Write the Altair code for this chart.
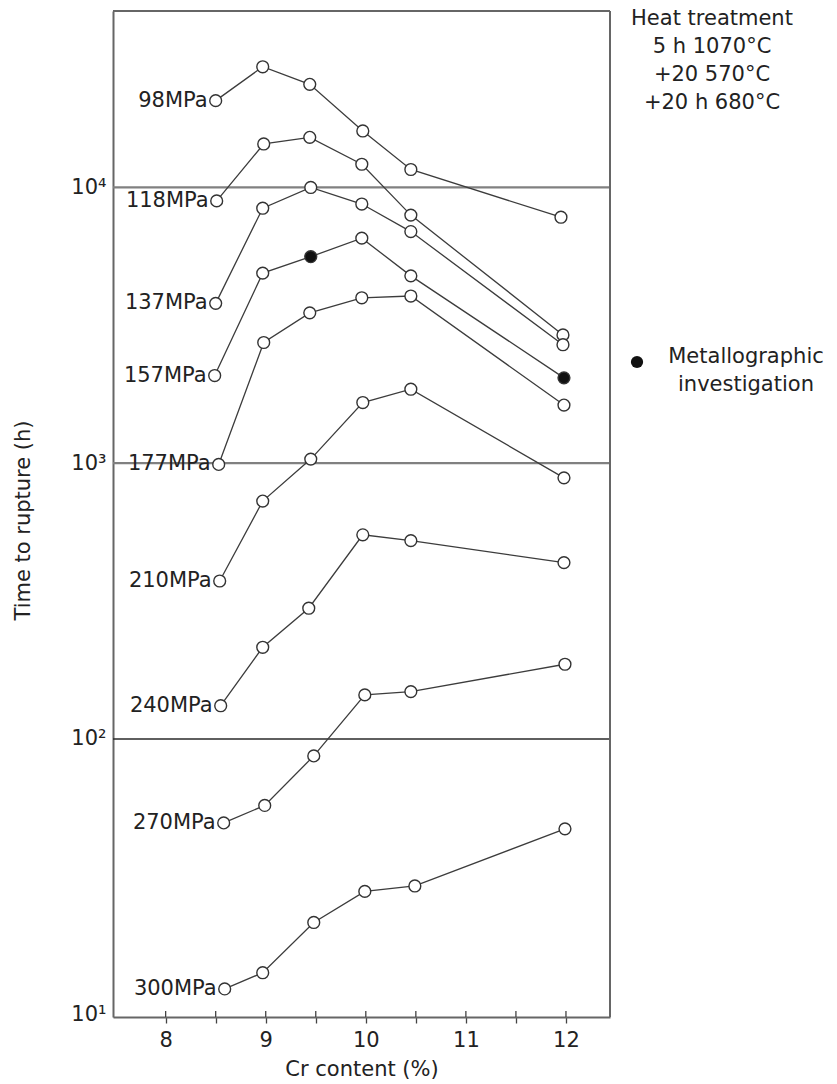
import altair as alt
import pandas as pd

# Creep rupture life versus Cr content, one curve per applied stress
stress_labels = ["98MPa", "118MPa", "137MPa", "157MPa", "177MPa",
                 "210MPa", "240MPa", "270MPa", "300MPa"]

cr_98 = [8.50, 8.97, 9.44, 9.97, 10.45, 11.95]
hours_98 = [20650, 27400, 23660, 16030, 11620, 7800]

cr_118 = [8.51, 8.98, 9.44, 9.96, 10.45, 11.97]
hours_118 = [8940, 14380, 15200, 12140, 7940, 2920]

cr_137 = [8.50, 8.97, 9.45, 9.96, 10.45, 11.97]
hours_137 = [3800, 8410, 10000, 8710, 6920, 2690]

cr_157 = [8.49, 8.97, 9.45, 9.96, 10.45, 11.98]
hours_157 = [2080, 4890, 5610, 6550, 4780, 2040]
metallo_157 = [False, False, True, False, False, True]

cr_177 = [8.53, 8.98, 9.44, 9.96, 10.45, 11.98]
hours_177 = [990, 2740, 3510, 3980, 4040, 1625]

cr_210 = [8.54, 8.97, 9.45, 9.97, 10.45, 11.98]
hours_210 = [374, 729, 1035, 1660, 1855, 885]

cr_240 = [8.55, 8.97, 9.43, 9.97, 10.45, 11.98]
hours_240 = [132, 215, 298, 550, 524, 436]

cr_270 = [8.58, 8.99, 9.48, 9.99, 10.45, 11.99]
hours_270 = [49.6, 57.4, 86.8, 144.5, 148.5, 186.6]

cr_300 = [8.59, 8.97, 9.48, 9.99, 10.49, 11.99]
hours_300 = [12.4, 14.2, 21.6, 28.0, 29.3, 47.2]

x_ticks = [8, 8.5, 9, 9.5, 10, 10.5, 11, 11.5, 12]
y_ticks = [10, 100, 1000, 10000]
grid_levels = [100, 1000, 10000]

heat_treatment = ["Heat treatment", "5 h 1070°C", "+20 570°C", "+20 h 680°C"]
legend_lines = ["Metallographic", "investigation"]

series = [
    (cr_98, hours_98, None), (cr_118, hours_118, None),
    (cr_137, hours_137, None), (cr_157, hours_157, metallo_157),
    (cr_177, hours_177, None), (cr_210, hours_210, None),
    (cr_240, hours_240, None), (cr_270, hours_270, None),
    (cr_300, hours_300, None),
]

rows = []
for label, (xs, ys, flags) in zip(stress_labels, series):
    for i, (x, y) in enumerate(zip(xs, ys)):
        rows.append({"stress": label, "idx": i, "cr": x, "hours": y,
                     "metallo": bool(flags[i]) if flags else False})
df = pd.DataFrame(rows)
first_pts = df[df["idx"] == 0]

W, H = 497, 1006
FONT = "DejaVu Sans"
FS = 21
INK = "#222222"
FRAME = "#666666"

x_scale = alt.Scale(domain=[7.474, 12.44], nice=False, zero=False)
y_scale = alt.Scale(type="log", domain=[9.81, 43650], nice=False)

x_axis = alt.Axis(
    values=x_ticks, title="Cr content (%)",
    labelExpr="datum.value % 1 == 0 ? '' + datum.value : ''",
    tickSize=6, tickColor="#444", tickWidth=1.3,
    domain=True, domainColor=FRAME, domainWidth=2, grid=False,
    labelPadding=6, titlePadding=8,
    labelFont=FONT, labelFontSize=FS, labelColor=INK,
    titleFont=FONT, titleFontSize=FS, titleColor=INK, titleFontWeight="normal",
)
y_axis = alt.Axis(
    values=y_ticks, title="Time to rupture (h)",
    labelExpr="'10' + (datum.value >= 10000 ? '⁴' : datum.value >= 1000 ? '³' : datum.value >= 100 ? '²' : '¹')",
    ticks=False, domain=True, domainColor=FRAME, domainWidth=2, grid=False,
    labelPadding=7,
    titleX=-90, titleY=509, titleAngle=270,
    titleAlign="center", titleBaseline="middle",
    labelFont=FONT, labelFontSize=FS, labelColor=INK,
    titleFont=FONT, titleFontSize=FS, titleColor=INK, titleFontWeight="normal",
)


def xe(field):
    return alt.X(field, scale=x_scale, axis=x_axis)


def ye(field):
    return alt.Y(field, scale=y_scale, axis=y_axis)


base = alt.Chart(df)

lines = base.mark_line(color="#3c3c3c", strokeWidth=1.3).encode(
    x=xe("cr:Q"), y=ye("hours:Q"), detail="stress:N", order="idx:Q"
)

grid_df = pd.DataFrame({"level": grid_levels,
                        "dark": [True, False, False]})
grid = alt.Chart(grid_df).mark_rule().encode(
    y=ye("level:Q"),
    color=alt.condition("datum.dark", alt.value("#2a2a2a"), alt.value("#808080")),
    strokeWidth=alt.condition("datum.dark", alt.value(1.6), alt.value(2.2)),
)

inner_ticks = alt.Chart(pd.DataFrame({"t": x_ticks})).mark_rule(
    color="#444", strokeWidth=1.3
).encode(
    x=xe("t:Q"),
    y=alt.value(H - 6), y2=alt.value(H),
)

points = base.mark_point(
    shape="circle", filled=True, size=140, stroke="#333333",
    strokeWidth=1.4, opacity=1,
).encode(
    x=xe("cr:Q"), y=ye("hours:Q"),
    fill=alt.condition("datum.metallo", alt.value("#111111"), alt.value("white")),
)

labels = alt.Chart(first_pts).mark_text(
    align="right", baseline="middle", dx=-8, font=FONT, fontSize=FS, color=INK
).encode(x=xe("cr:Q"), y=ye("hours:Q"), text="stress:N")

ht_text = alt.Chart(pd.DataFrame({"k": [0]})).mark_text(
    text=heat_treatment, lineHeight=28, align="center", baseline="top",
    font=FONT, fontSize=FS, color=INK,
).encode(x=alt.value(599), y=alt.value(-3))

lg_text = alt.Chart(pd.DataFrame({"k": [0]})).mark_text(
    text=legend_lines, lineHeight=28, align="center", baseline="top",
    font=FONT, fontSize=FS, color=INK,
).encode(x=alt.value(633), y=alt.value(335))

lg_dot = alt.Chart(pd.DataFrame({"k": [0]})).mark_point(
    shape="circle", filled=True, size=150, color="#111111", opacity=1
).encode(x=alt.value(524), y=alt.value(351))

# top and right edges of the frame
frame_top = alt.Chart(pd.DataFrame({"k": [0]})).mark_rule(
    color=FRAME, strokeWidth=2
).encode(x=alt.value(0), x2=alt.value(W), y=alt.value(0))
frame_right = alt.Chart(pd.DataFrame({"k": [0]})).mark_rule(
    color=FRAME, strokeWidth=2
).encode(x=alt.value(W), y=alt.value(0), y2=alt.value(H))

chart = alt.layer(
    grid, inner_ticks, lines, points, labels, ht_text, lg_text, lg_dot,
    frame_top, frame_right
).properties(
    width=W, height=H,
    autosize=alt.AutoSizeParams(type="none"),
    padding={"left": 113, "top": 11, "right": 227, "bottom": 67},
).configure_view(
    stroke=None, clip=False
).configure(background="white")

chart.save("out.html", embed_options={"renderer": "svg", "actions": False})
